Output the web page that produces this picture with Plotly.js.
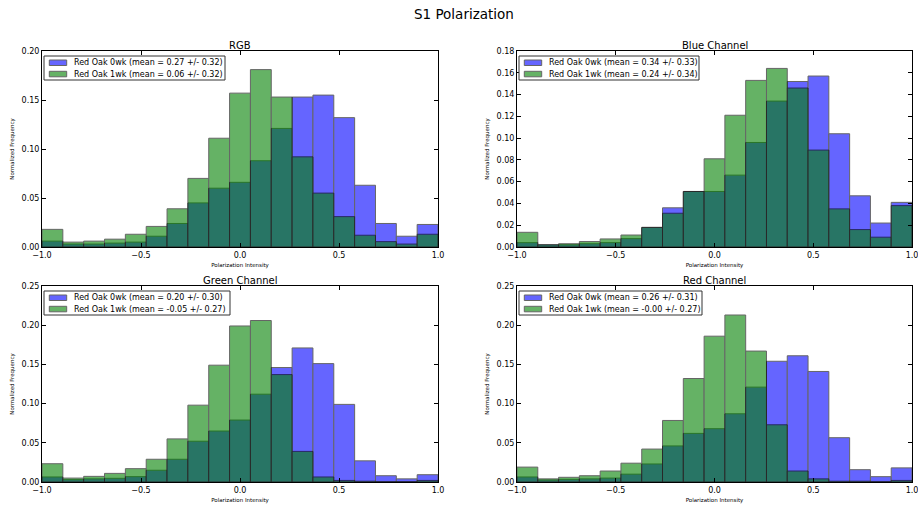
<!DOCTYPE html>
<html>
<head>
<meta charset="utf-8">
<script src="https://cdn.plot.ly/plotly-3.0.1.min.js"></script>
<style>
  html, body { margin: 0; padding: 0; background: #fff; overflow: hidden; }
  #chart { width: 930px; height: 506px; }
</style>
</head>
<body>
<div id="chart"></div>
<script>
// Histogram settings: 19 equal bins spanning [-1, 1]
const binLo = -1, binHi = 1, binCount = 19;

// Normalized frequency per bin (0wk = blue, 1wk = green)
const rgb0wk   = [0.006, 0.003, 0.003, 0.004, 0.005, 0.011, 0.024, 0.045, 0.060, 0.066, 0.088, 0.121, 0.153, 0.155, 0.132, 0.063, 0.024, 0.011, 0.023];
const rgb1wk   = [0.018, 0.005, 0.006, 0.008, 0.013, 0.021, 0.039, 0.070, 0.111, 0.157, 0.181, 0.153, 0.092, 0.055, 0.031, 0.012, 0.0055, 0.003, 0.013];

const blue0wk  = [0.004, 0.002, 0.002, 0.003, 0.004, 0.0077, 0.018, 0.036, 0.051, 0.051, 0.066, 0.096, 0.134, 0.152, 0.157, 0.104, 0.047, 0.022, 0.041];
const blue1wk  = [0.0135, 0.002, 0.003, 0.005, 0.0074, 0.011, 0.018, 0.031, 0.051, 0.081, 0.121, 0.153, 0.164, 0.146, 0.089, 0.035, 0.016, 0.009, 0.038];

const green0wk = [0.0064, 0.003, 0.004, 0.0047, 0.0068, 0.015, 0.029, 0.052, 0.065, 0.079, 0.112, 0.146, 0.171, 0.151, 0.099, 0.027, 0.008, 0.004, 0.0093];
const green1wk = [0.0233, 0.005, 0.0072, 0.011, 0.017, 0.029, 0.055, 0.098, 0.149, 0.199, 0.206, 0.137, 0.039, 0.0064, 0.002, 0.001, 0.0005, 0.0005, 0.002];

const red0wk   = [0.0064, 0.0025, 0.0034, 0.004, 0.005, 0.010, 0.023, 0.046, 0.062, 0.068, 0.087, 0.121, 0.154, 0.161, 0.141, 0.0565, 0.0157, 0.0068, 0.018];
const red1wk   = [0.019, 0.004, 0.006, 0.008, 0.014, 0.024, 0.042, 0.0785, 0.132, 0.186, 0.213, 0.167, 0.073, 0.014, 0.004, 0.001, 0.001, 0.0005, 0.002];

// Panel titles and legend labels
const panelTitles = ["RGB", "Blue Channel", "Green Channel", "Red Channel"];
const labels0wk = [
  "Red Oak 0wk (mean = 0.27 +/- 0.32)",
  "Red Oak 0wk (mean = 0.34 +/- 0.33)",
  "Red Oak 0wk (mean = 0.20 +/- 0.30)",
  "Red Oak 0wk (mean = 0.26 +/- 0.31)"
];
const labels1wk = [
  "Red Oak 1wk (mean = 0.06 +/- 0.32)",
  "Red Oak 1wk (mean = 0.24 +/- 0.34)",
  "Red Oak 1wk (mean = -0.05 +/- 0.27)",
  "Red Oak 1wk (mean = -0.00 +/- 0.27)"
];
const yMax  = [0.20, 0.18, 0.25, 0.25];
const yStep = [0.05, 0.02, 0.05, 0.05];

const series0 = [rgb0wk, blue0wk, green0wk, red0wk];
const series1 = [rgb1wk, blue1wk, green1wk, red1wk];

// Bin centres from the bin edges
const binWidth = (binHi - binLo) / binCount;
const centers = [];
for (let k = 0; k < binCount; k++) centers.push(binLo + (k + 0.5) * binWidth);

// Visible page is 918 px wide; the canvas runs a little wider so the
// last tick label on the right-hand panels is cut by the window edge.
const VIEW_W = 918, W = 930, H = 506;
// Plot-area boxes in pixels: [left, right, top, bottom]
const boxes = [
  [42, 438, 51, 247],
  [517, 912, 51, 247],
  [42, 438, 286, 482],
  [517, 912, 286, 482]
];
// Legend frame width (px) per panel
const legendWidths = [181, 180, 186, 183];

const BLUE = "rgb(0,0,255)", GREEN = "rgb(0,128,0)";
const FONT = "DejaVu Sans, Liberation Sans, sans-serif";
const px = v => v / W;          // pixel x -> paper
const py = v => 1 - v / H;      // pixel y -> paper

const traces = [];
const layout = {
  width: W, height: H,
  margin: {l: 0, r: 0, t: 0, b: 0},
  paper_bgcolor: "#fff", plot_bgcolor: "#fff",
  barmode: "overlay",
  showlegend: false,
  font: {family: FONT, color: "#000", size: 8},
  shapes: [],
  annotations: [{
    text: "S1 Polarization", xref: "paper", yref: "paper",
    x: px(VIEW_W / 2 + 5), y: py(14), xanchor: "center", yanchor: "middle",
    showarrow: false, font: {size: 13.5, family: FONT, color: "#000"}
  }]
};

for (let i = 0; i < 4; i++) {
  const n = i + 1;
  const sfx = n === 1 ? "" : String(n);
  const xa = "x" + sfx, ya = "y" + sfx;
  const [l, r, t, b] = boxes[i];

  traces.push({
    type: "bar", x: centers, y: series0[i], width: binWidth,
    xaxis: xa, yaxis: ya, name: labels0wk[i],
    marker: {color: BLUE, line: {color: "#000", width: 1}},
    opacity: 0.6, hoverinfo: "skip"
  });
  traces.push({
    type: "bar", x: centers, y: series1[i], width: binWidth,
    xaxis: xa, yaxis: ya, name: labels1wk[i],
    marker: {color: GREEN, line: {color: "#000", width: 1}},
    opacity: 0.6, hoverinfo: "skip"
  });

  const axCommon = {
    showline: true, linecolor: "#000", linewidth: 1, mirror: "ticks",
    ticks: "inside", ticklen: 4, tickcolor: "#000", showgrid: false,
    zeroline: false,
    tickfont: {size: 8, family: FONT, color: "#000"}
  };
  layout["xaxis" + sfx] = Object.assign({}, axCommon, {
    domain: [px(l), px(r)], anchor: ya,
    range: [binLo, binHi], tickmode: "linear", tick0: -1, dtick: 0.5,
    tickformat: ".1f", ticklabeloverflow: "allow",
    title: {text: "Polarization Intensity", font: {size: 5.5, family: FONT, color: "#000"}, standoff: 4}
  });
  layout["yaxis" + sfx] = Object.assign({}, axCommon, {
    domain: [py(b), py(t)], anchor: xa,
    range: [0, yMax[i]], tickmode: "linear", tick0: 0, dtick: yStep[i],
    tickformat: ".2f",
    title: {text: "Normalized Frequency", font: {size: 5.5, family: FONT, color: "#000"}, standoff: 6}
  });

  // Legend frame
  layout.shapes.push({
    type: "rect", xref: "paper", yref: "paper", layer: "above",
    x0: px(l + 2), x1: px(l + 2 + legendWidths[i]), y0: py(t + 5), y1: py(t + 29),
    fillcolor: "#fff", line: {color: "#333", width: 1}
  });
  // Legend swatches and labels
  const rows = [[BLUE, labels0wk[i], t + 9, t + 14.5], [GREEN, labels1wk[i], t + 20.3, t + 25.8]];
  rows.forEach(([col, txt, y0, y1]) => {
    layout.shapes.push({
      type: "rect", xref: "paper", yref: "paper", layer: "above",
      x0: px(l + 7.3), x1: px(l + 24.7), y0: py(y0), y1: py(y1),
      fillcolor: col, opacity: 0.6, line: {color: "#000", width: 1}
    });
    layout.annotations.push({
      text: txt, xref: "paper", yref: "paper",
      x: px(l + 29.5), y: py((y0 + y1) / 2), xanchor: "left", yanchor: "middle",
      showarrow: false, font: {size: 8, family: FONT, color: "#000"}
    });
  });

  layout.annotations.push({
    text: panelTitles[i], xref: "paper", yref: "paper",
    x: px((l + r) / 2), y: py(t - 6), xanchor: "center", yanchor: "middle",
    showarrow: false, font: {size: 10, family: FONT, color: "#000"}
  });
}

Plotly.newPlot("chart", traces, layout, {displayModeBar: false, staticPlot: true});
</script>
</body>
</html>
